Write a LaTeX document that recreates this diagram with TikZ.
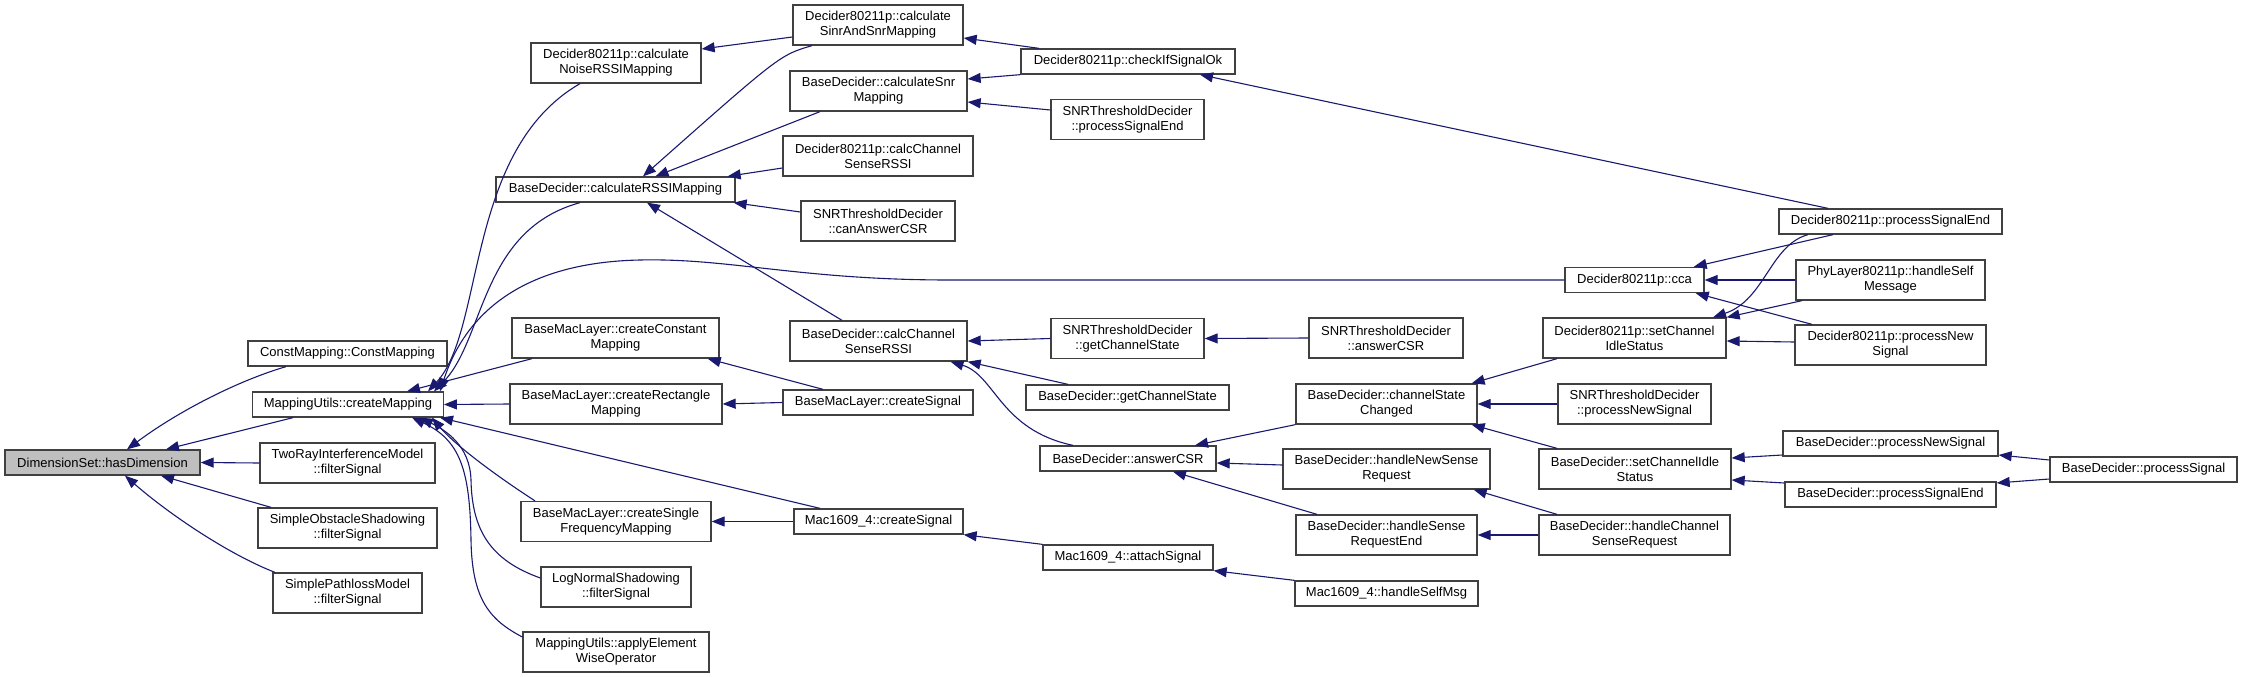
\documentclass[tikz,border=0pt]{standalone}
\usepackage{fontspec}
\setmainfont{Liberation Sans}
\usetikzlibrary{arrows.meta}
\definecolor{mblue}{HTML}{191970}
\definecolor{bordc}{HTML}{404040}
\definecolor{rootfill}{HTML}{BFBFBF}
\tikzset{
  nd/.style={draw=bordc, line width=1.3pt, fill=white, inner sep=0pt, align=center,
    font=\fontsize{13}{15}\selectfont},
  rootnd/.style={nd, fill=rootfill},
  edge/.style={draw=mblue, line width=1.1pt, -{Triangle[length=13pt,width=10pt]}}
}
\newcommand{\mkbox}[7][nd]{\node[#1,minimum width=#5pt,minimum height=#6pt] (#2) at (#3,#4) {#7};}
\begin{document}
\begin{tikzpicture}[x=1pt,y=-1pt]
\useasboundingbox (0,0) rectangle (2243,677);
% column 1
\mkbox[rootnd]{hd}{102.5}{462.5}{195}{25}{DimensionSet::hasDimension}
% column 2
\mkbox{cm0}{347.5}{353.5}{199}{25}{ConstMapping::ConstMapping}
\mkbox{mu}{348}{404.5}{190.5}{25}{MappingUtils::createMapping}
\mkbox{tr}{347.5}{463}{175}{40}{TwoRayInterferenceModel\\::filterSignal}
\mkbox{so}{347.5}{528}{179}{40}{SimpleObstacleShadowing\\::filterSignal}
\mkbox{sp}{347.5}{593}{149}{40}{SimplePathlossModel\\::filterSignal}
% column 3
\mkbox{noise}{616}{63}{170}{40}{Decider80211p::calculate\\NoiseRSSIMapping}
\mkbox{rssi}{615.5}{189.5}{239}{25}{BaseDecider::calculateRSSIMapping}
\mkbox{cconst}{615.5}{338}{207}{40}{BaseMacLayer::createConstant\\Mapping}
\mkbox{crect}{616}{404}{212}{40}{BaseMacLayer::createRectangle\\Mapping}
\mkbox{csingle}{616}{521.5}{190}{40}{BaseMacLayer::createSingle\\FrequencyMapping}
\mkbox{lognorm}{616}{587}{150}{40}{LogNormalShadowing\\::filterSignal}
\mkbox{apply}{616}{652}{186}{40}{MappingUtils::applyElement\\WiseOperator}
% column 4
\mkbox{sinr}{878}{25}{170}{40}{Decider80211p::calculate\\SinrAndSnrMapping}
\mkbox{snr}{878.5}{91}{177}{40}{BaseDecider::calculateSnr\\Mapping}
\mkbox{d80calc}{878}{156}{190}{40}{Decider80211p::calcChannel\\SenseRSSI}
\mkbox{canans}{878}{221}{154}{40}{SNRThresholdDecider\\::canAnswerCSR}
\mkbox{bdcalc}{878.5}{341}{177}{40}{BaseDecider::calcChannel\\SenseRSSI}
\mkbox{bmsig}{878}{402.5}{190}{25}{BaseMacLayer::createSignal}
\mkbox{macsig}{878.5}{521.5}{169}{25}{Mac1609\_4::createSignal}
% column 5
\mkbox{check}{1128}{61.5}{214}{25}{Decider80211p::checkIfSignalOk}
\mkbox{snrpse}{1127.5}{119.5}{153}{40}{SNRThresholdDecider\\::processSignalEnd}
\mkbox{snrgcs}{1127.5}{338.5}{153}{40}{SNRThresholdDecider\\::getChannelState}
\mkbox{bdgcs}{1127.5}{397.5}{203}{25}{BaseDecider::getChannelState}
\mkbox{answer}{1128}{458.5}{176}{25}{BaseDecider::answerCSR}
\mkbox{attach}{1128}{557.5}{170}{25}{Mac1609\_4::attachSignal}
% column 6
\mkbox{snrans}{1386}{338}{154}{40}{SNRThresholdDecider\\::answerCSR}
\mkbox{csc}{1386.5}{404}{181}{40}{BaseDecider::channelState\\Changed}
\mkbox{hnsr}{1386.5}{469}{207}{40}{BaseDecider::handleNewSense\\Request}
\mkbox{hsre}{1386.5}{535}{181}{40}{BaseDecider::handleSense\\RequestEnd}
\mkbox{hsm}{1386.5}{593.5}{183}{25}{Mac1609\_4::handleSelfMsg}
% column 7
\mkbox{cca}{1634.5}{280}{139}{25}{Decider80211p::cca}
\mkbox{d80sci}{1634.5}{338}{183}{40}{Decider80211p::setChannel\\IdleStatus}
\mkbox{snrpns}{1634.5}{404}{153}{40}{SNRThresholdDecider\\::processNewSignal}
\mkbox{bdsci}{1635}{469}{192}{40}{BaseDecider::setChannelIdle\\Status}
\mkbox{hcsr}{1634.5}{535}{191}{40}{BaseDecider::handleChannel\\SenseRequest}
% column 8
\mkbox{d80pse}{1890.5}{221.5}{223}{25}{Decider80211p::processSignalEnd}
\mkbox{phyhsm}{1890.5}{280}{189}{40}{PhyLayer80211p::handleSelf\\Message}
\mkbox{d80pns}{1890.5}{345}{191}{40}{Decider80211p::processNew\\Signal}
\mkbox{bdpns}{1890.5}{443.5}{215}{25}{BaseDecider::processNewSignal}
\mkbox{bdpse}{1890.5}{494.5}{211}{25}{BaseDecider::processSignalEnd}
% column 9
\mkbox{bdps}{2143.5}{469.5}{187}{25}{BaseDecider::processSignal}

% ---- edges into hasDimension
\draw[edge] ([xshift=-61.5pt]cm0.south) .. controls (240,380) and (180,410) .. ([xshift=24.5pt]hd.north);
\draw[edge] ([xshift=-55pt]mu.south) -- ([xshift=63.5pt]hd.north);
\draw[edge] (tr.west) -- (hd.east);
\draw[edge] ([xshift=-76.5pt]so.north) -- ([xshift=58.5pt]hd.south);
\draw[edge] ([xshift=-72.5pt]sp.north) .. controls (230,555) and (170,515) .. ([xshift=22.5pt]hd.south);

% ---- edges into createMapping
\draw[edge] ([xshift=-83.5pt]cconst.south) -- ([xshift=59pt]mu.north);
\draw[edge] ([xshift=-36pt]noise.south) .. controls (465,150) and (485,330) .. ([xshift=80pt]mu.north);
\draw[edge] ([xshift=-35.5pt]rssi.south) .. controls (480,230) and (485,340) .. ([xshift=86pt]mu.north);
\draw[edge] (cca.west) -- (950,280) .. controls (800,280) and (730,258) .. (640,260) .. controls (540,262) and (470,300) .. ([xshift=92pt]mu.north);
\draw[edge] (crect.west) -- (mu.east);
\draw[edge] ([xshift=-58.5pt]macsig.north) -- ([xshift=92pt]mu.south);
\draw[edge] ([xshift=-81pt]csingle.north) .. controls (495,475) and (455,445) .. ([xshift=84pt]mu.south);
\draw[edge] ([yshift=9pt]lognorm.west) .. controls (490,560) and (472,530) .. (471,480) .. controls (470,445) and (445,430) .. ([xshift=72pt]mu.south);
\draw[edge] ([yshift=15pt]apply.west) .. controls (490,620) and (472,600) .. (471,540) .. controls (470,470) and (460,440) .. ([xshift=64pt]mu.south);

% ---- edges into calculateRSSIMapping / NoiseRSSIMapping
\draw[edge] ([xshift=-66pt]sinr.south) .. controls (780,55) .. ([xshift=27.5pt]rssi.north);
\draw[edge] ([xshift=-58.5pt]snr.south) -- ([xshift=40pt]rssi.north);
\draw[edge] ([yshift=-12pt]d80calc.west) -- ([xshift=-8pt]rssi.north east);
\draw[edge] ([yshift=9pt]canans.west) -- ([xshift=-2pt]rssi.south east);
\draw[edge] ([xshift=-36.5pt]bdcalc.north) -- ([xshift=31.5pt]rssi.south);
\draw[edge] ([yshift=-12pt]sinr.west) -- ([yshift=14pt]noise.east);

% ---- column 4 callers
\draw[edge] ([xshift=-89pt]check.north) -- ([yshift=-13pt]sinr.east);
\draw[edge] (check.south west) -- ([yshift=12pt]snr.east);
\draw[edge] ([yshift=9.5pt]snrpse.west) -- ([yshift=-11pt]snr.east);
\draw[edge] (snrgcs.west) -- (bdcalc.east);
\draw[edge] ([xshift=-59.5pt]bdgcs.north) -- (bdcalc.south east);
\draw[edge] ([xshift=-55pt]answer.north) .. controls (1000,430) and (995,375) .. ([xshift=72pt]bdcalc.south);
\draw[edge] ([xshift=-55pt]bmsig.north) -- ([xshift=-12pt]cconst.south east);
\draw[edge] (bmsig.west) -- (crect.east);
\draw[edge] (macsig.west) -- (csingle.east);
\draw[edge] (attach.north west) -- (macsig.south east);

% ---- column 6 callers
\draw[edge] ([xshift=-62.5pt]d80pse.north) -- ([xshift=72pt]check.south);
\draw[edge] (snrans.west) -- (snrgcs.east);
\draw[edge] (csc.south west) -- ([xshift=67pt]answer.north);
\draw[edge] ([yshift=4pt]hnsr.west) -- ([yshift=-4.5pt]answer.east);
\draw[edge] ([xshift=-69.5pt]hsre.north) -- ([xshift=45pt]answer.south);
\draw[edge] (hsm.north west) -- (attach.south east);

% ---- column 7 callers
\draw[edge] ([xshift=-77.5pt]d80sci.south) -- ([xshift=-6pt]csc.north east);
\draw[edge] (snrpns.west) -- (csc.east);
\draw[edge] ([xshift=-78pt]bdsci.north) -- ([xshift=-6pt]csc.south east);
\draw[edge] ([xshift=-77.5pt]hcsr.north) -- ([xshift=-17pt]hnsr.south east);
\draw[edge] (hcsr.west) -- (hsre.east);

% ---- column 8 callers
\draw[edge] ([xshift=-82.5pt]d80pse.south) .. controls (1770,245) and (1765,300) .. ([xshift=78.5pt]d80sci.north);
\draw[edge] ([xshift=-88.5pt]phyhsm.south) -- (d80sci.north east);
\draw[edge] ([yshift=3pt]d80pns.west) -- ([yshift=-3pt]d80sci.east);
\draw[edge] ([xshift=-57.5pt]d80pse.south) -- ([xshift=-11pt]cca.north east);
\draw[edge] (phyhsm.west) -- (cca.east);
\draw[edge] ([xshift=-78.5pt]d80pns.north) -- ([xshift=-9pt]cca.south east);
\draw[edge] ([yshift=-11.5pt]bdpns.west) -- ([yshift=11pt]bdsci.east);
\draw[edge] ([yshift=11.5pt]bdpse.west) -- ([yshift=-11pt]bdsci.east);

% ---- column 9 callers
\draw[edge] ([yshift=9.5pt]bdps.west) -- ([yshift=-11.5pt]bdpns.east);
\draw[edge] ([yshift=-9.5pt]bdps.west) -- ([yshift=11.5pt]bdpse.east);
\end{tikzpicture}
\end{document}
